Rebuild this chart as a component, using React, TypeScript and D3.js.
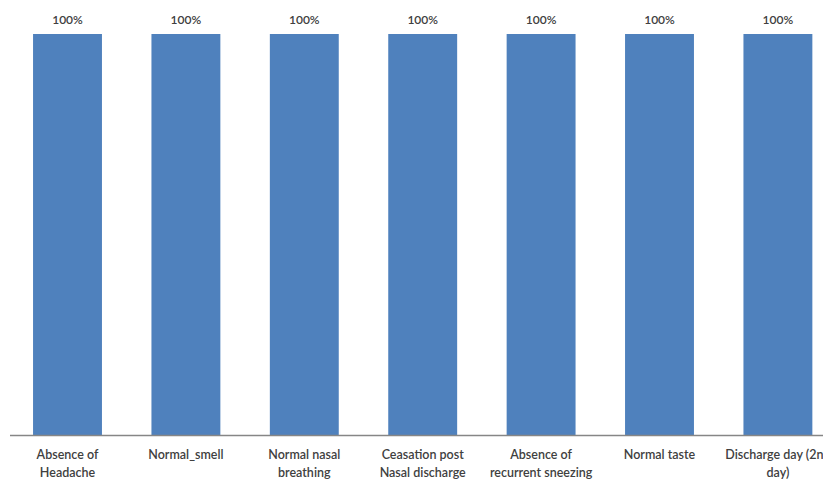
import React from "react";
import * as d3 from "d3";

const categories: string[][] = [
  ["Absence of", "Headache"],
  ["Normal_smell"],
  ["Normal nasal", "breathing"],
  ["Ceasation post", "Nasal discharge"],
  ["Absence of", "recurrent sneezing"],
  ["Normal taste"],
  ["Discharge day (2nd", "day)"],
];
const values: number[] = [100, 100, 100, 100, 100, 100, 100];

const W = 823;
const H = 481;
const axisY = 435;
const topY = 34;

export default function App() {
  const ids = categories.map((_, i) => String(i));
  const x = d3
    .scaleBand<string>()
    .domain(ids)
    .range([8.3, 8.3 + 7 * 118.4])
    .paddingInner(0.418)
    .paddingOuter(0.209);
  const y = d3.scaleLinear().domain([0, 100]).range([axisY, topY]);
  const font = "Lato, 'Open Sans', sans-serif";
  return (
    <svg
      width={W}
      height={H}
      style={{ position: "absolute", left: 0, top: 0, background: "#fff" }}
    >
      {values.map((v, i) => (
        <g key={i}>
          <rect
            x={x(String(i))}
            y={y(v)}
            width={x.bandwidth()}
            height={axisY - y(v)}
            fill="#4F81BD"
          />
          <text
            x={(x(String(i)) as number) + x.bandwidth() / 2}
            y={y(v) - 10}
            textAnchor="middle"
            fontFamily={font}
            fontSize={12}
            fontWeight={600}
            fill="#404040"
          >
            {v + "%"}
          </text>
        </g>
      ))}
      <line x1={10} x2={W} y1={axisY + 0.5} y2={axisY + 0.5} stroke="#868686" strokeWidth={1.3} />
      {categories.map((lines, i) =>
        lines.map((ln, j) => (
          <text
            key={i + "-" + j}
            x={(x(String(i)) as number) + x.bandwidth() / 2}
            y={459 + j * 18}
            textAnchor="middle"
            fontFamily={font}
            fontSize={12.5}
            fontWeight={600}
            fill="#404040"
          >
            {ln}
          </text>
        ))
      )}
    </svg>
  );
}
